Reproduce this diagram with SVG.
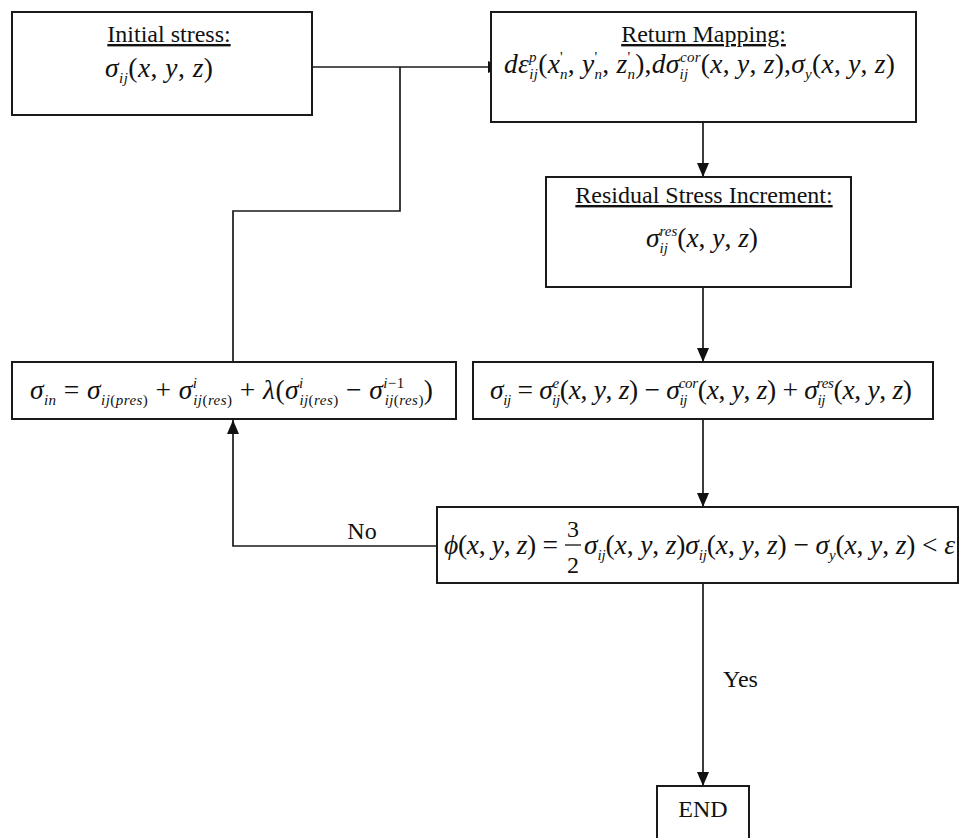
<svg xmlns="http://www.w3.org/2000/svg" width="960" height="838" viewBox="0 0 960 838">
<style>
.box{fill:#fff;stroke:#1a1a1a;stroke-width:2}
.ln{fill:none;stroke:#1a1a1a;stroke-width:1.7}
.t{font-family:"Liberation Serif","Times New Roman",serif;font-size:24px;fill:#111}
.ul{text-decoration:underline}
.m{font-family:"Liberation Serif","Times New Roman",serif;font-size:27.5px;font-style:italic;fill:#111}
.u{font-style:normal}
.s{font-size:15px}
</style>
<defs>
<marker id="ah" markerWidth="14" markerHeight="12" refX="14" refY="6" orient="auto" markerUnits="userSpaceOnUse"><path d="M0,0 L14,6 L0,12 z" fill="#111"/></marker>
</defs>
<rect width="960" height="838" fill="#fff"/>
<g id="connectors">
<line class="ln" x1="312" y1="67" x2="502" y2="67" marker-end="url(#ah)"/>
<polyline class="ln" points="400,67 400,211 233,211 233,362"/>
<line class="ln" x1="703" y1="122" x2="703" y2="177" marker-end="url(#ah)"/>
<line class="ln" x1="703" y1="287" x2="703" y2="362" marker-end="url(#ah)"/>
<line class="ln" x1="703" y1="419" x2="703" y2="507" marker-end="url(#ah)"/>
<line class="ln" x1="703" y1="583" x2="703" y2="786" marker-end="url(#ah)"/>
<polyline class="ln" points="437,546 233,546 233,420" marker-end="url(#ah)"/>
<text class="t" x="362" y="539" text-anchor="middle">No</text>
<text class="t" x="723" y="687">Yes</text>
</g>
<g id="initial">
<rect class="box" x="12" y="12" width="300" height="103"/>
<text class="t ul" x="169" y="42" text-anchor="middle">Initial stress:</text>
<text class="m" x="105" y="77" textLength="108" lengthAdjust="spacing">σ<tspan class="s" dy="6">ij</tspan><tspan class="u" dy="-6">(</tspan>x<tspan class="u">, </tspan>y<tspan class="u">, </tspan>z<tspan class="u">)</tspan></text>
</g>
<g id="return">
<rect class="box" x="491" y="12" width="425" height="110"/>
<text class="t ul" x="703.5" y="42" text-anchor="middle">Return Mapping:</text>
<text class="m" x="504" y="73" textLength="391" lengthAdjust="spacing">dε<tspan class="s" dy="-11">p</tspan><tspan class="s" dx="-7.5" dy="17">ij</tspan><tspan class="u" dy="-6">(</tspan>x<tspan class="s u" dy="-11">'</tspan><tspan class="s" dx="-3" dy="17">n</tspan><tspan class="u" dy="-6">, </tspan>y<tspan class="s u" dy="-11">'</tspan><tspan class="s" dx="-3" dy="17">n</tspan><tspan class="u" dy="-6">, </tspan>z<tspan class="s u" dy="-11">'</tspan><tspan class="s" dx="-3" dy="17">n</tspan><tspan class="u" dy="-6">),</tspan>dσ<tspan class="s" dy="6">ij</tspan><tspan class="s" dx="-8.3" dy="-17">cor</tspan><tspan class="u" dy="11">(</tspan>x<tspan class="u">, </tspan>y<tspan class="u">, </tspan>z<tspan class="u">),</tspan>σ<tspan class="s" dy="6">y</tspan><tspan class="u" dy="-6">(</tspan>x<tspan class="u">, </tspan>y<tspan class="u">, </tspan>z<tspan class="u">)</tspan></text>
</g>
<g id="residual">
<rect class="box" x="546" y="177" width="305" height="110"/>
<text class="t ul" x="704" y="203" text-anchor="middle">Residual Stress Increment:</text>
<text class="m" x="646" y="247" textLength="112" lengthAdjust="spacing">σ<tspan class="s" dy="6">ij</tspan><tspan class="s" dx="-8.3" dy="-17">res</tspan><tspan class="u" dy="11">(</tspan>x<tspan class="u">, </tspan>y<tspan class="u">, </tspan>z<tspan class="u">)</tspan></text>
</g>
<g id="sigma-in">
<rect class="box" x="12" y="362" width="444" height="57"/>
<text class="m" x="30" y="399" textLength="403" lengthAdjust="spacing">σ<tspan class="s" dy="6">in</tspan><tspan class="u" dy="-6"> = </tspan>σ<tspan class="s" dy="6">ij<tspan class="u">(</tspan>pres<tspan class="u">)</tspan></tspan><tspan class="u" dy="-6"> + </tspan>σ<tspan class="s" dy="-11">i</tspan><tspan class="s" dx="-4.2" dy="17">ij<tspan class="u">(</tspan>res<tspan class="u">)</tspan></tspan><tspan class="u" dy="-6"> + </tspan>λ<tspan class="u">(</tspan>σ<tspan class="s" dy="-11">i</tspan><tspan class="s" dx="-4.2" dy="17">ij<tspan class="u">(</tspan>res<tspan class="u">)</tspan></tspan><tspan class="u" dy="-6"> − </tspan>σ<tspan class="s" dy="-11">i<tspan class="u">−1</tspan></tspan><tspan class="s" dx="-20" dy="17">ij<tspan class="u">(</tspan>res<tspan class="u">)</tspan></tspan><tspan class="u" dy="-6">)</tspan></text>
</g>
<g id="sigma-ij">
<rect class="box" x="473" y="362" width="460" height="57"/>
<text class="m" x="490" y="399" textLength="422" lengthAdjust="spacing">σ<tspan class="s" dy="6">ij</tspan><tspan class="u" dy="-6"> = </tspan>σ<tspan class="s" dy="-11">e</tspan><tspan class="s" dx="-6.7" dy="17">ij</tspan><tspan class="u" dy="-6">(</tspan>x<tspan class="u">, </tspan>y<tspan class="u">, </tspan>z<tspan class="u">) − </tspan>σ<tspan class="s" dy="6">ij</tspan><tspan class="s" dx="-8.3" dy="-17">cor</tspan><tspan class="u" dy="11">(</tspan>x<tspan class="u">, </tspan>y<tspan class="u">, </tspan>z<tspan class="u">) + </tspan>σ<tspan class="s" dy="6">ij</tspan><tspan class="s" dx="-8.3" dy="-17">res</tspan><tspan class="u" dy="11">(</tspan>x<tspan class="u">, </tspan>y<tspan class="u">, </tspan>z<tspan class="u">)</tspan></text>
</g>
<g id="check">
<rect class="box" x="437" y="507" width="521" height="76"/>
<text class="m" x="444" y="554" textLength="114" lengthAdjust="spacing">ϕ<tspan class="u">(</tspan>x<tspan class="u">, </tspan>y<tspan class="u">, </tspan>z<tspan class="u">) =</tspan></text>
<text class="t" x="573" y="537" text-anchor="middle" font-size="26">3</text>
<line x1="565" y1="545" x2="581" y2="545" stroke="#111" stroke-width="1.3"/>
<text class="t" x="573" y="573" text-anchor="middle" font-size="26">2</text>
<text class="m" x="584" y="554" textLength="371" lengthAdjust="spacing">σ<tspan class="s" dy="6">ij</tspan><tspan class="u" dy="-6">(</tspan>x<tspan class="u">, </tspan>y<tspan class="u">, </tspan>z<tspan class="u">)</tspan>σ<tspan class="s" dy="6">ij</tspan><tspan class="u" dy="-6">(</tspan>x<tspan class="u">, </tspan>y<tspan class="u">, </tspan>z<tspan class="u">) − </tspan>σ<tspan class="s" dy="6">y</tspan><tspan class="u" dy="-6">(</tspan>x<tspan class="u">, </tspan>y<tspan class="u">, </tspan>z<tspan class="u">) &lt; </tspan>ε</text>
</g>
<g id="end">
<rect class="box" x="657" y="786" width="92" height="60"/>
<text class="t" x="703" y="817" text-anchor="middle">END</text>
</g>
</svg>
